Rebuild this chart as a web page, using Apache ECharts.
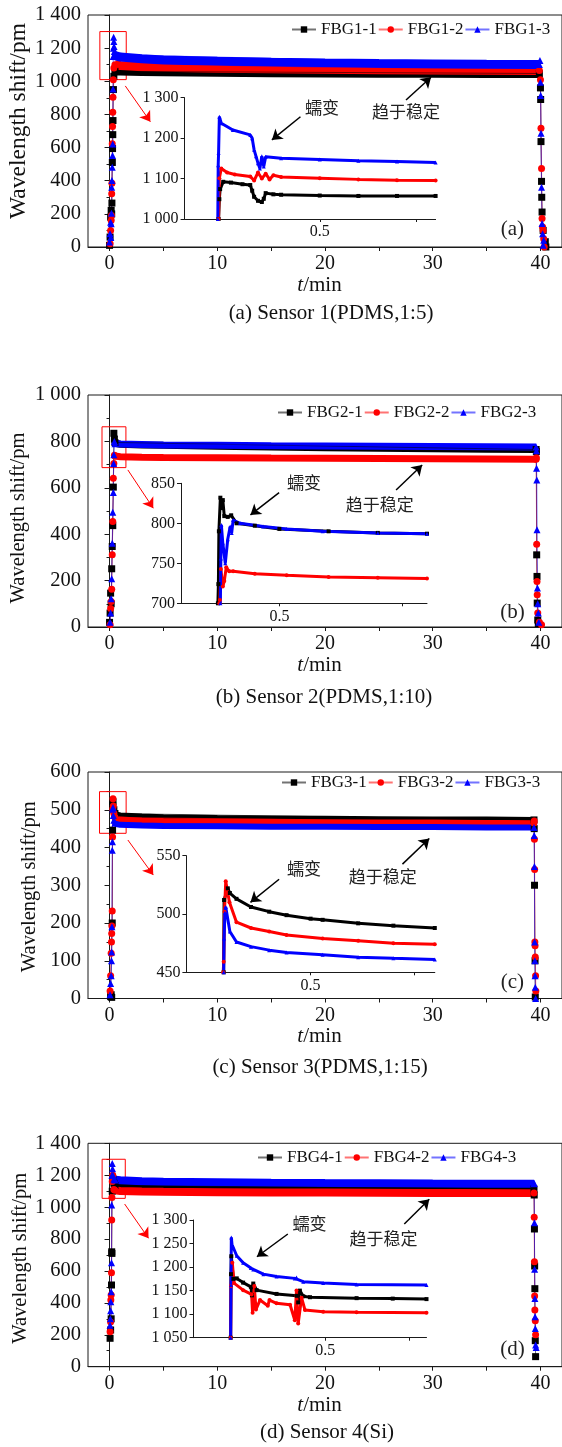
<!DOCTYPE html>
<html><head><meta charset="utf-8">
<script src="https://cdn.jsdelivr.net/npm/echarts@6/dist/echarts.min.js"></script>
<style>html,body{margin:0;padding:0;background:#fff}#c{width:562px;height:1447px}</style>
</head><body><div id="c"></div>
<script>
// ---------------- DATA ----------------
const namesA = ['FBG1-1', 'FBG1-2', 'FBG1-3'];
const namesB = ['FBG2-1', 'FBG2-2', 'FBG2-3'];
const namesC = ['FBG3-1', 'FBG3-2', 'FBG3-3'];
const namesD = ['FBG4-1', 'FBG4-2', 'FBG4-3'];
const captions = ['(a) Sensor 1(PDMS,1:5)', '(b) Sensor 2(PDMS,1:10)', '(c) Sensor 3(PDMS,1:15)', '(d) Sensor 4(Si)'];
const panelTags = ['(a)', '(b)', '(c)', '(d)'];
const crawlText = '蠕变';
const stableText = '趋于稳定';
const yTitle = 'Wavelength shift/pm';
const xTitle = '{i|t}/min';
const xTickLabels = [0, 10, 20, 30, 40];
const xTickMarks = [0, 5, 10, 15, 20, 25, 30, 35, 40];
const insetXTickLabels = [0.5];
const insetXTickMarks = [0.5, 0.75];
const yMaxes = [1400, 1000, 600, 1400];
const yIntervals = [200, 200, 100, 200];
const insetYRanges = [[1000, 1300, 100], [700, 850, 50], [450, 550, 50], [1050, 1300, 50]];
const insetXRanges = [[0.15, 0.8], [0.3, 0.8], [0.2, 0.8], [0.11, 0.8]];

// Panel (a)
const a1Edge = [[0.0,10],[0.05,60],[0.1,180],[0.15,221],[0.2,200],[0.22,265],[0.26,510],[0.28,594],[0.3,678],[0.32,763],[0.36,950],[0.4,1030],[0.5,1060],
  [39.9,1047],[40.0,960],[40.02,890],[40.05,636],[40.1,396],[40.12,300],[40.15,211],[40.25,100],[40.45,32],[40.5,0]];
const a2Edge = [[0.05,20],[0.1,100],[0.15,160],[0.18,190],[0.2,322],[0.22,384],[0.25,623],[0.28,727],[0.3,813],[0.32,904],[0.35,1010],[0.4,1080],[0.5,1100],
  [39.9,1065],[40.0,1010],[40.05,717],[40.1,473],[40.15,172],[40.2,120],[40.25,100],[40.3,50],[40.35,0]];
const a3Edge = [[0.0,30],[0.05,80],[0.1,150],[0.12,58],[0.15,140],[0.18,203],[0.2,361],[0.22,402],[0.25,482],[0.28,552],[0.3,621],[0.32,954],[0.34,1150],[0.36,1200],[0.38,1265],[0.4,1240],[0.42,1210],[0.45,1180],[0.5,1160],
  [39.9,1102],[39.95,1125],[40.0,994],[40.02,914],[40.05,687],[40.1,361],[40.15,142],[40.2,80],[40.25,10],[40.3,40]];
const a1Band = [[0.5,1062],[1,1062],[3,1059],[5,1057],[10,1054],[15,1052],[20,1050],[25,1049],[30,1048],[35,1047],[39.9,1047]];
const a2Band = [[0.5,1100],[1,1095],[3,1088],[5,1084],[10,1078],[15,1075],[20,1072],[25,1070],[30,1068],[35,1066],[39.9,1065]];
const a3Band = [[0.5,1155],[1,1146],[3,1136],[5,1129],[10,1121],[15,1115],[20,1110],[25,1107],[30,1105],[35,1103],[39.9,1102]];
const a1Inset = [[0.238,1000],[0.24,1049],[0.242,1074],[0.25,1092],[0.27,1090],[0.3,1086],[0.32,1084],[0.325,1070],[0.33,1055],[0.34,1045],[0.35,1042],[0.355,1050],[0.36,1064],[0.38,1061],[0.4,1060],[0.5,1058],[0.6,1057],[0.7,1057],[0.8,1057]];
const a2Inset = [[0.238,1000],[0.24,1101],[0.245,1125],[0.26,1115],[0.28,1110],[0.32,1105],[0.33,1095],[0.34,1115],[0.35,1100],[0.36,1112],[0.37,1098],[0.38,1108],[0.4,1104],[0.5,1101],[0.6,1098],[0.7,1096],[0.8,1095]];
const a3Inset = [[0.236,1000],[0.237,1133],[0.238,1163],[0.24,1253],[0.245,1237],[0.275,1220],[0.32,1208],[0.325,1200],[0.33,1171],[0.335,1155],[0.34,1138],[0.345,1125],[0.35,1155],[0.355,1130],[0.36,1154],[0.4,1150],[0.5,1147],[0.6,1144],[0.7,1142],[0.8,1140]];

// Panel (b)
const b1Edge = [[0.0,20],[0.05,60],[0.1,146],[0.15,100],[0.2,251],[0.25,347],[0.3,437],[0.35,603],[0.4,835],[0.45,810],[0.5,795],
  [39.6,765],[39.62,756],[39.65,311],[39.68,218],[39.7,103],[39.75,30],[39.8,15]];
const b2Edge = [[0.05,10],[0.1,80],[0.15,110],[0.2,163],[0.25,311],[0.3,455],[0.35,641],[0.4,705],[0.45,740],[0.5,737],
  [39.6,723],[39.62,729],[39.65,357],[39.68,196],[39.7,139],[39.75,60],[39.9,20],[40.1,10]];
const b3Edge = [[0.05,20],[0.1,60],[0.15,122],[0.2,208],[0.25,361],[0.3,495],[0.35,580],[0.38,705],[0.4,742],[0.45,800],[0.5,790],
  [39.6,776],[39.62,760],[39.64,684],[39.66,634],[39.68,419],[39.72,168],[39.75,100],[39.8,60],[39.85,20]];
const b1Band = [[0.5,792],[1,788],[3,785],[5,783],[10,779],[15,776],[20,773],[25,770],[30,768],[35,766],[39.6,765]];
const b2Band = [[0.5,737],[1,734],[3,732],[5,731],[10,730],[15,728],[20,727],[25,726],[30,725],[35,724],[39.6,723]];
const b3Band = [[0.5,792],[1,789],[3,787],[5,785],[10,783],[15,781],[20,780],[25,779],[30,778],[35,777],[39.6,776]];
const b1Inset = [[0.375,700],[0.376,724],[0.377,790],[0.38,832],[0.383,819],[0.385,829],[0.388,809],[0.395,808],[0.402,810],[0.413,800],[0.45,797],[0.5,793],[0.6,790],[0.7,788],[0.8,787]];
const b2Inset = [[0.378,700],[0.379,704],[0.381,743],[0.385,721],[0.388,728],[0.392,745],[0.398,740],[0.406,740],[0.45,737],[0.515,735],[0.6,733],[0.7,732],[0.8,731]];
const b3Inset = [[0.38,700],[0.381,756],[0.382,798],[0.385,775],[0.39,750],[0.395,780],[0.4,796],[0.403,788],[0.406,804],[0.42,800],[0.467,796],[0.515,793],[0.588,790],[0.7,788],[0.8,787]];

// Panel (c)
const c1Edge = [[0.1,5],[0.15,10],[0.2,3],[0.25,200],[0.28,446],[0.3,512],[0.32,521],[0.4,500],[0.5,490],
  [39.4,473],[39.42,450],[39.45,300],[39.5,100],[39.52,4]];
const c2Edge = [[0.05,20],[0.1,60],[0.15,120],[0.18,150],[0.2,172],[0.22,192],[0.25,232],[0.28,428],[0.3,502],[0.32,529],[0.35,510],[0.4,490],[0.5,480],
  [39.4,465],[39.42,470],[39.44,422],[39.46,342],[39.48,150],[39.5,140],[39.52,110],[39.55,60],[39.57,20]];
const c3Edge = [[0.05,10],[0.1,40],[0.15,60],[0.18,100],[0.2,123],[0.22,190],[0.25,393],[0.27,415],[0.3,501],[0.32,506],[0.35,485],[0.4,472],[0.5,465],
  [39.4,453],[39.42,432],[39.44,350],[39.46,150],[39.48,100],[39.5,60],[39.52,30],[39.55,0]];
const c1Band = [[0.5,488],[1,485],[3,482],[5,480],[10,478],[15,477],[20,476],[25,475],[30,474],[35,474],[39.4,473]];
const c2Band = [[0.5,477],[1,474],[3,471],[5,470],[10,469],[15,468],[20,467],[25,466],[30,466],[35,465],[39.4,465]];
const c3Band = [[0.5,463],[1,460],[3,458],[5,457],[10,456],[15,455],[20,455],[25,454],[30,454],[35,453],[39.4,453]];
const c1Inset = [[0.29,450],[0.291,512],[0.3,522],[0.305,518],[0.321,513],[0.356,506],[0.4,502],[0.442,499],[0.5,496],[0.529,495],[0.615,492],[0.7,490],[0.8,488]];
const c2Inset = [[0.289,450],[0.29,459],[0.292,502],[0.295,528],[0.304,510],[0.321,493],[0.356,488],[0.4,485],[0.442,482],[0.529,479],[0.615,477],[0.7,475],[0.8,474]];
const c3Inset = [[0.29,450],[0.291,479],[0.293,501],[0.295,506],[0.305,485],[0.321,476],[0.356,472],[0.4,469],[0.442,467],[0.529,465],[0.615,463],[0.7,462],[0.8,461]];

// Panel (d)
const d1Edge = [[0.05,178],[0.1,230],[0.15,300],[0.18,512],[0.2,720],[0.22,710],[0.25,1100],[0.3,1180],[0.4,1150],[0.5,1135],
  [39.4,1113],[39.42,1076],[39.44,863],[39.46,631],[39.48,489],[39.52,163],[39.55,63]];
const d2Edge = [[0.05,219],[0.1,280],[0.12,418],[0.15,449],[0.18,589],[0.2,919],[0.22,1060],[0.25,1160],[0.3,1200],[0.4,1110],[0.5,1105],
  [39.4,1088],[39.42,936],[39.44,658],[39.46,443],[39.48,355],[39.52,288],[39.55,200]];
const d3Edge = [[0.05,260],[0.08,300],[0.1,350],[0.12,407],[0.15,470],[0.18,651],[0.2,1013],[0.22,1200],[0.25,1274],[0.28,1240],[0.32,1200],[0.4,1175],[0.5,1170],
  [39.4,1147],[39.42,1150],[39.44,902],[39.46,610],[39.48,428],[39.5,313],[39.52,240],[39.55,136],[39.6,120]];
const d1Band = [[0.5,1135],[1,1132],[3,1128],[5,1126],[10,1123],[15,1121],[20,1119],[25,1117],[30,1115],[35,1114],[39.4,1113]];
const d2Band = [[0.5,1105],[1,1101],[3,1098],[5,1096],[10,1094],[15,1092],[20,1091],[25,1090],[30,1089],[35,1088],[39.4,1088]];
const d3Band = [[0.5,1172],[1,1168],[3,1162],[5,1159],[10,1156],[15,1153],[20,1151],[25,1150],[30,1148],[35,1147],[39.4,1147]];
const d1Inset = [[0.22,1050],[0.221,1185],[0.222,1223],[0.228,1175],[0.238,1176],[0.257,1167],[0.28,1158],[0.283,1140],[0.287,1165],[0.297,1151],[0.356,1143],[0.416,1139],[0.42,1125],[0.425,1150],[0.435,1138],[0.455,1136],[0.593,1134],[0.7,1133],[0.8,1132]];
const d2Inset = [[0.22,1050],[0.221,1160],[0.225,1209],[0.23,1166],[0.257,1151],[0.282,1142],[0.285,1103],[0.29,1160],[0.295,1110],[0.307,1130],[0.33,1118],[0.335,1130],[0.356,1123],[0.396,1120],[0.41,1087],[0.415,1150],[0.42,1080],[0.43,1135],[0.44,1109],[0.494,1105],[0.593,1104],[0.8,1103]];
const d3Inset = [[0.22,1050],[0.221,1162],[0.222,1263],[0.224,1248],[0.238,1224],[0.257,1209],[0.28,1198],[0.287,1195],[0.317,1185],[0.356,1180],[0.41,1176],[0.415,1178],[0.435,1169],[0.494,1166],[0.593,1163],[0.8,1162]];

// ---------------- STYLE / LAYOUT ----------------
const COLORS = ['#000000', '#ff0000', '#0000ff'];
const SYMBOLS = ['rect', 'circle', 'triangle'];
const SERIF = "'Liberation Serif', 'Times New Roman', serif";
const CJK = "'Noto Sans CJK SC', sans-serif";
const AX = '#1a1a1a';

const panels = [
  { names: namesA, edges: [a1Edge, a2Edge, a3Edge], bands: [a1Band, a2Band, a3Band], insets: [a1Inset, a2Inset, a3Inset],
    main: { top: 15, height: 232 }, inset: { left: 184.6, top: 97.7, width: 251, height: 121.3 },
    legend: { left: 291, top: 21 }, bw: 9, yT: { x: 19, y: 121, size: 23.5 }, cap: { x: 331, y: 313 },
    ann: { crawl: [19.72, 839], stable: [27.52, 816.5], crawlArrow: [[17.72, 786], [15.07, 646]], stableArrow: [[27.52, 887], [29.84, 1024]],
      tag: [37.4, 103], rect: [[-0.9, 1010], [1.55, 1300]], redArrow: [[1.46, 972], [3.79, 756]] } },
  { names: namesB, edges: [b1Edge, b2Edge, b3Edge], bands: [b1Band, b2Band, b3Band], insets: [b1Inset, b2Inset, b3Inset],
    main: { top: 395, height: 232 }, inset: { left: 181, top: 483.3, width: 246, height: 120 },
    legend: { left: 277, top: 404 }, bw: 7, yT: { x: 19, y: 518, size: 20.5 }, cap: { x: 324, y: 697 },
    ann: { crawl: [18.06, 622], stable: [25.09, 526], crawlArrow: [[15.74, 579], [13.08, 483]], stableArrow: [[26.6, 590.5], [29.02, 698]],
      tag: [37.4, 61.6], rect: [[-0.70, 687], [1.52, 863]], redArrow: [[1.70, 677], [4.06, 512]] } },
  { names: namesC, edges: [c1Edge, c2Edge, c3Edge], bands: [c1Band, c2Band, c3Band], insets: [c1Inset, c2Inset, c3Inset],
    main: { top: 772, height: 226.5 }, inset: { left: 186.4, top: 855.7, width: 248.4, height: 116.6 },
    legend: { left: 281, top: 774 }, bw: 6, yT: { x: 29.5, y: 886.7, size: 20.5 }, cap: { x: 320, y: 1067 },
    ann: { crawl: [18.06, 345], stable: [25.37, 322.6], crawlArrow: [[15.74, 315.8], [13.08, 254.8]], stableArrow: [[27.19, 356], [29.68, 424]],
      tag: [37.4, 41.9], rect: [[-0.93, 437.6], [1.54, 548]], redArrow: [[1.70, 419.9], [4.06, 327]] } },
  { names: namesD, edges: [d1Edge, d2Edge, d3Edge], bands: [d1Band, d2Band, d3Band], insets: [d1Inset, d2Inset, d3Inset],
    main: { top: 1143.3, height: 223.4 }, inset: { left: 193.5, top: 1220, width: 233, height: 117.7 },
    legend: { left: 257, top: 1149 }, bw: 8, yT: { x: 20.5, y: 1258.3, size: 20.5 }, cap: { x: 327, y: 1432 },
    ann: { crawl: [18.56, 898.7], stable: [25.43, 804.7], crawlArrow: [[16.55, 831.6], [13.68, 689]], stableArrow: [[27.36, 894], [29.68, 1049]],
      tag: [37.4, 109], rect: [[-0.69, 1055], [1.46, 1300]], redArrow: [[1.40, 1019.6], [3.62, 804.7]] } }
];

function thousands(v) {
  if (v >= 1000) { const r = Math.round(v % 1000); return Math.floor(v / 1000) + ' ' + String(r).padStart(3, '0'); }
  return String(v);
}

const grid = [], xAxis = [], yAxis = [], series = [], legend = [], graphic = [];

panels.forEach((p, i) => {
  const gm = 2 * i, gi = 2 * i + 1;
  grid.push({ left: 88, top: p.main.top, width: 475, height: p.main.height, show: true, borderColor: AX, borderWidth: 1, backgroundColor: 'transparent' });
  grid.push({ left: p.inset.left, top: p.inset.top, width: p.inset.width, height: p.inset.height });

  xAxis.push({
    type: 'value', gridIndex: gm, min: -2, max: 42,
    axisLine: { show: true, onZero: false, lineStyle: { color: AX, width: 1 } },
    axisTick: { show: true, inside: false, length: 4, customValues: xTickMarks, lineStyle: { color: AX } },
    axisLabel: { customValues: xTickLabels, fontFamily: SERIF, fontSize: 20, color: '#111', margin: 7 },
    splitLine: { show: false },
    name: xTitle, nameLocation: 'middle', nameGap: 26.5,
    nameTextStyle: { fontFamily: SERIF, fontSize: 21, color: '#111', padding: [0, 11, 0, 0],
      rich: { i: { fontFamily: SERIF, fontSize: 21, fontStyle: 'italic', color: '#111' } } }
  });
  yAxis.push({
    type: 'value', gridIndex: gm, min: 0, max: yMaxes[i], interval: yIntervals[i],
    axisLine: { show: true, lineStyle: { color: AX, width: 1 } },
    axisTick: { show: true, inside: false, length: 5, lineStyle: { color: AX } },
    minorTick: { show: true, splitNumber: 2, length: 3, lineStyle: { color: AX } },
    axisLabel: { fontFamily: SERIF, fontSize: 20.5, color: '#111', margin: 7, formatter: thousands },
    splitLine: { show: false }
  });
  xAxis.push({
    type: 'value', gridIndex: gi, min: insetXRanges[i][0], max: insetXRanges[i][1],
    axisLine: { show: true, onZero: false, lineStyle: { color: AX, width: 1 } },
    axisTick: { show: true, inside: false, length: 3, customValues: insetXTickMarks, lineStyle: { color: AX } },
    axisLabel: { customValues: insetXTickLabels, fontFamily: SERIF, fontSize: 16, color: '#111', margin: 5 },
    splitLine: { show: false }
  });
  yAxis.push({
    type: 'value', gridIndex: gi, min: insetYRanges[i][0], max: insetYRanges[i][1], interval: insetYRanges[i][2],
    axisLine: { show: true, lineStyle: { color: AX, width: 1 } },
    axisTick: { show: true, inside: false, length: 4, lineStyle: { color: AX } },
    axisLabel: { fontFamily: SERIF, fontSize: 16, color: '#111', margin: 6, formatter: thousands },
    splitLine: { show: false }
  });

  // bands (dense steady-state data)
  p.bands.forEach((d, k) => {
    const s = {
      type: 'line', name: p.names[k] + ' band', xAxisIndex: gm, yAxisIndex: gm, data: d,
      symbol: 'none', showSymbol: false, silent: true, z: 2,
      lineStyle: { color: COLORS[k], width: p.bw }, itemStyle: { color: COLORS[k] }
    };
    if (k === 0) {
      const a = p.ann;
      s.markArea = { silent: true, itemStyle: { color: 'rgba(0,0,0,0)', borderColor: '#ff0000', borderWidth: 1 },
        data: [[{ coord: a.rect[0] }, { coord: a.rect[1] }]] };
      s.markLine = { silent: true, symbol: ['none', 'arrow'], symbolSize: 10, label: { show: false }, animation: false,
        data: [
          [{ coord: a.crawlArrow[0], lineStyle: { color: '#000', width: 1.5, type: 'solid' } }, { coord: a.crawlArrow[1] }],
          [{ coord: a.stableArrow[0], lineStyle: { color: '#000', width: 1.5, type: 'solid' } }, { coord: a.stableArrow[1] }],
          [{ coord: a.redArrow[0], lineStyle: { color: '#ff0000', width: 1, type: 'solid' }, symbolSize: 8 }, { coord: a.redArrow[1] }]
        ] };
      const mp = (coord, text, font, size) => ({
        coord, symbol: 'circle', symbolSize: 1, itemStyle: { color: 'rgba(0,0,0,0)' },
        label: { show: true, position: 'inside', formatter: text, fontFamily: font, fontSize: size, color: '#222' }
      });
      s.markPoint = { silent: true, animation: false,
        data: [mp(a.crawl, crawlText, CJK, 17), mp(a.stable, stableText, CJK, 17), mp(a.tag, panelTags[i], SERIF, 21)] };
    }
    series.push(s);
  });
  // edges (loading / unloading transients)
  p.edges.forEach((d, k) => {
    series.push({
      type: 'line', name: p.names[k], xAxisIndex: gm, yAxisIndex: gm, data: d,
      symbol: SYMBOLS[k], symbolSize: 7, showAllSymbol: true, z: 3,
      lineStyle: { color: COLORS[k], width: 1, opacity: 0.55 }, itemStyle: { color: COLORS[k] }
    });
  });
  // insets
  p.insets.forEach((d, k) => {
    series.push({
      type: 'line', name: p.names[k], xAxisIndex: gi, yAxisIndex: gi, data: d,
      symbol: SYMBOLS[k], symbolSize: 4, showAllSymbol: true, z: 4,
      lineStyle: { color: COLORS[k], width: 3 }, itemStyle: { color: COLORS[k] }
    });
  });

  legend.push({
    data: p.names, left: p.legend.left, top: p.legend.top, orient: 'horizontal', selectedMode: false,
    itemWidth: 24, itemHeight: 8, itemGap: 1, padding: 0,
    textStyle: { fontFamily: SERIF, fontSize: 17, color: '#111' }
  });

  graphic.push({ type: 'text', x: p.yT.x, y: p.yT.y, rotation: Math.PI / 2,
    style: { text: yTitle, fontFamily: SERIF, fontSize: p.yT.size, fill: '#111', align: 'center', verticalAlign: 'middle' } });
  graphic.push({ type: 'text', x: p.cap.x, y: p.cap.y,
    style: { text: captions[i], fontFamily: SERIF, fontSize: 21, fill: '#111', align: 'center', verticalAlign: 'middle' } });
});

const chart = echarts.init(document.getElementById('c'), null, { renderer: 'canvas' });
chart.setOption({ animation: false, backgroundColor: '#fff', grid, xAxis, yAxis, series, legend, graphic });
</script></body></html>
